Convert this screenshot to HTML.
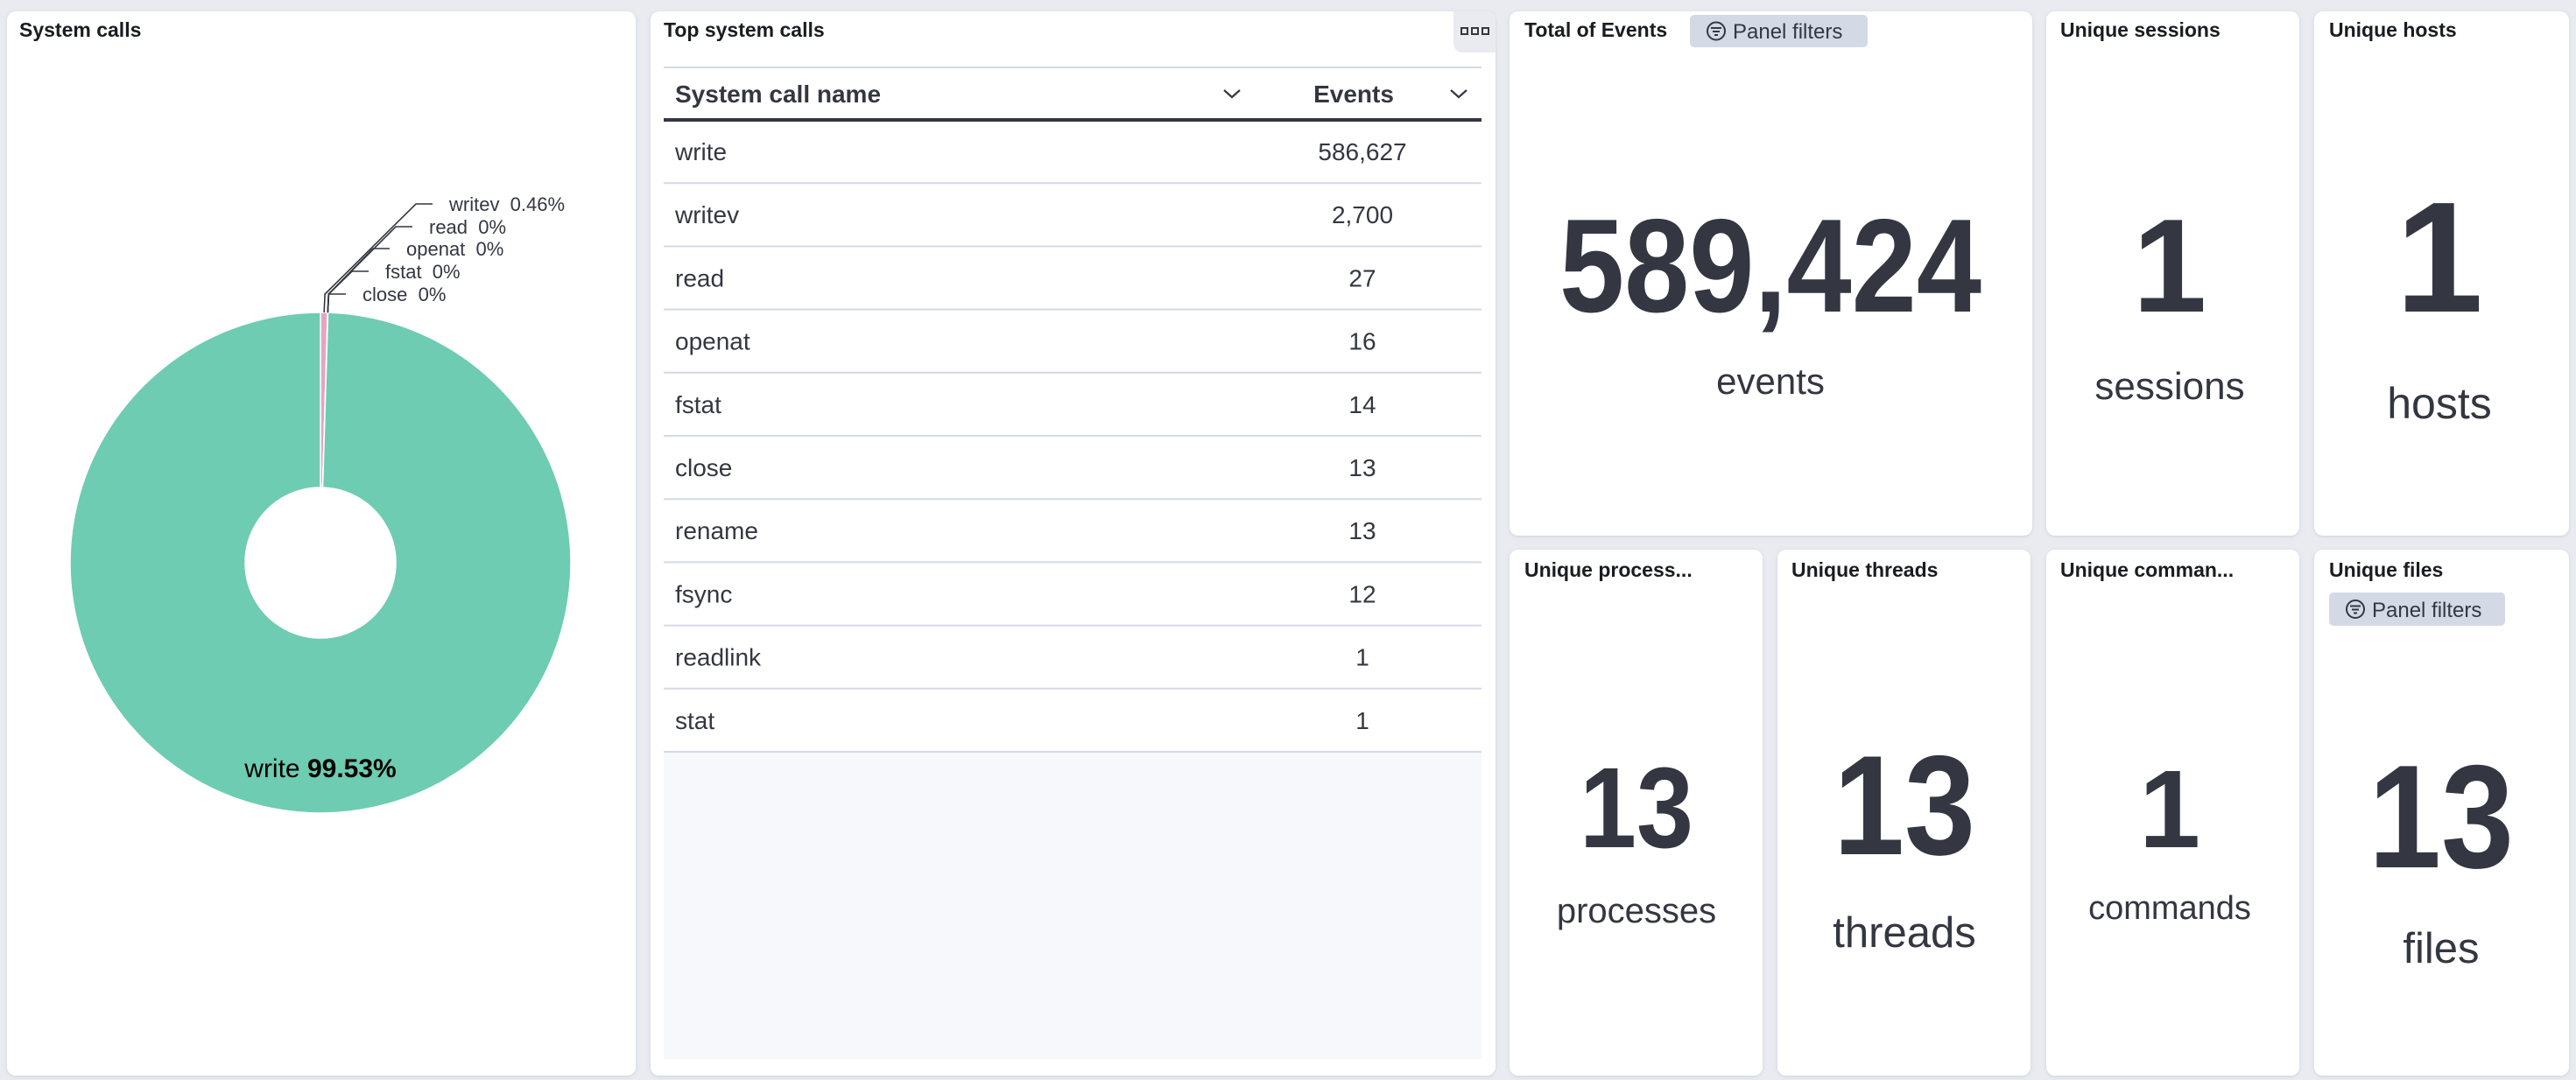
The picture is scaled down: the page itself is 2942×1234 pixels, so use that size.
<!DOCTYPE html>
<html><head><meta charset="utf-8"><style>
html,body{margin:0;padding:0;background:#e9ebf0;}
svg{display:block;font-family:"Liberation Sans",sans-serif;}
</style></head><body>
<svg id="root" width="2942" height="1234" viewBox="0 0 2942 1234" xmlns="http://www.w3.org/2000/svg">
<defs><filter id="sh" x="-5%" y="-5%" width="110%" height="110%"><feDropShadow dx="0" dy="1" stdDeviation="2" flood-color="#98a2b3" flood-opacity="0.35"/></filter></defs>
<rect width="2942" height="1234" fill="#e9ebf0"/>
<g filter="url(#sh)" fill="#fff">
<rect x="8" y="13" width="718" height="1216" rx="10"/>
<rect x="743" y="13" width="965" height="1216" rx="10"/>
<rect x="1724" y="13" width="597" height="599" rx="10"/>
<rect x="2337" y="13" width="289" height="599" rx="10"/>
<rect x="2643" y="13" width="291" height="599" rx="10"/>
<rect x="1724" y="628" width="289" height="601" rx="10"/>
<rect x="2030" y="628" width="289" height="601" rx="10"/>
<rect x="2337" y="628" width="289" height="601" rx="10"/>
<rect x="2643" y="628" width="291" height="601" rx="10"/>
</g>
<g font-weight="bold" font-size="23" fill="#1a1c21">
<text x="22" y="42">System calls</text>
<text x="758" y="42">Top system calls</text>
<text x="1741" y="42">Total of Events</text>
<text x="2353" y="42">Unique sessions</text>
<text x="2660" y="42">Unique hosts</text>
<text x="1741" y="659">Unique process...</text>
<text x="2046" y="659">Unique threads</text>
<text x="2353" y="659">Unique comman...</text>
<text x="2660" y="659">Unique files</text>
</g>
<g>
<rect x="1930" y="17" width="203" height="37" rx="5" fill="#d3dae6"/>
<circle cx="1960" cy="35.5" r="10" fill="none" stroke="#343741" stroke-width="2"/>
<path d="M1954 32h12M1956 36h8M1958 40h4" stroke="#343741" stroke-width="2"/>
<text x="1979" y="44" font-size="24" fill="#343741">Panel filters</text>
</g>
<g>
<rect x="2660" y="677" width="201" height="38" rx="5" fill="#d3dae6"/>
<circle cx="2690" cy="696" r="10" fill="none" stroke="#343741" stroke-width="2"/>
<path d="M2684 692.5h12M2686 696.5h8M2688 700.5h4" stroke="#343741" stroke-width="2"/>
<text x="2709" y="705" font-size="24" fill="#343741">Panel filters</text>
</g>
<g>
<path d="M1660 13h38a10 10 0 0 1 10 10v37h-38a10 10 0 0 1-10-10z" fill="#e9ebf0"/>
<rect x="1669" y="32" width="7" height="7" fill="none" stroke="#343741" stroke-width="2"/>
<rect x="1681" y="32" width="7" height="7" fill="none" stroke="#343741" stroke-width="2"/>
<rect x="1693" y="32" width="7" height="7" fill="none" stroke="#343741" stroke-width="2"/>
</g>
<g fill="#343741" font-weight="bold" text-anchor="middle">
<text x="2022" y="356" font-size="152" textLength="482" lengthAdjust="spacingAndGlyphs">589,424</text>
<text x="2478" y="356" font-size="152">1</text>
<text x="2786" y="356" font-size="180">1</text>
<text x="1869" y="968" font-size="131" textLength="130" lengthAdjust="spacingAndGlyphs">13</text>
<text x="2175" y="976" font-size="162" textLength="162" lengthAdjust="spacingAndGlyphs">13</text>
<text x="2478" y="968" font-size="126">1</text>
<text x="2788" y="991" font-size="168" textLength="166" lengthAdjust="spacingAndGlyphs">13</text>
</g>
<g fill="#343741" text-anchor="middle">
<text x="2022" y="450" font-size="42">events</text>
<text x="2478" y="456" font-size="44">sessions</text>
<text x="2786" y="478" font-size="50">hosts</text>
<text x="1869" y="1054" font-size="40">processes</text>
<text x="2175" y="1082" font-size="49">threads</text>
<text x="2478" y="1050" font-size="38">commands</text>
<text x="2788" y="1100" font-size="49">files</text>
</g>
<g id="pie"></g>
<g id="table"></g>
</svg>
<script>
const callNames = ["write","writev","read","openat","fstat","close","rename","fsync","readlink","stat"];
const callCounts = [586627,2700,27,16,14,13,13,12,1,1];
const pieLabelCount = 6;

const NS = "http://www.w3.org/2000/svg";
function mk(tag, attrs, parent){const e=document.createElementNS(NS,tag);for(const k in attrs)e.setAttribute(k,attrs[k]);parent.appendChild(e);return e;}
const total = callCounts.reduce((a,b)=>a+b,0);
const fmtPct = v => { const p = v/total*100; const r = Math.round(p*100)/100; return (r===0?"0":r.toString())+"%"; };

// Donut
const pie = document.getElementById('pie');
const cx=366, cy=643, R=286, r0=86;
const colors = ["#6dccb1","#e7a3c4","#79aad9","#f1d86f","#a987d1","#ee789d","#d6bf57","#b9a888","#da8b45","#aa6556"];
function pt(a,rad){return [cx+rad*Math.sin(a), cy-rad*Math.cos(a)];}
let order=[]; for(let i=1;i<callNames.length;i++) order.push(i); order.push(0);
let ang=0; const mids={};
order.forEach(i=>{
  const span = callCounts[i]/total*2*Math.PI;
  const a0=ang, a1=ang+span; ang=a1; mids[i]=(a0+a1)/2;
  const large = span>Math.PI?1:0;
  const p0=pt(a0,R), p1=pt(a1,R), q1=pt(a1,r0), q0=pt(a0,r0);
  const d=`M${p0[0]} ${p0[1]}A${R} ${R} 0 ${large} 1 ${p1[0]} ${p1[1]}L${q1[0]} ${q1[1]}A${r0} ${r0} 0 ${large} 0 ${q0[0]} ${q0[1]}Z`;
  const s = mk('path',{d:d, fill:colors[i], stroke:'#fff', 'stroke-width':1.5}, pie);
  
  
});
const labelYs=[233,259,284,310,336];
const labelTickX=[475,452,426,402,376];
for(let k=1;k<pieLabelCount;k++){
  const m = pt(mids[k],R);
  const y=labelYs[k-1], tx=labelTickX[k-1];
  const l = mk('polyline',{points:`${m[0]} ${m[1]} ${m[0]+1} ${336} ${tx} ${y} ${tx+19} ${y}`, fill:'none', stroke:'#343741', 'stroke-width':1.6}, pie);
  
  
  const t = mk('text',{x:tx+38, y:y+8, 'font-size':22, fill:'#343741', 'xml:space':'preserve'}, pie);
  t.setAttribute('style','white-space:pre');
  t.textContent = callNames[k]+"  "+fmtPct(callCounts[k]);
  
  
}
const wl = mk('text',{x:366, y:888, 'font-size':30, fill:'#000', 'text-anchor':'middle'}, pie);


wl.innerHTML = callNames[0]+' <tspan font-weight="bold">'+fmtPct(callCounts[0])+'</tspan>';

// Table
const tb = document.getElementById('table');
const tL=758, tR=1692, tTop=137, rh=72.2, evX=1556;
const emptyArea = mk('rect',{x:tL,y:tTop+rh*callNames.length,width:tR-tL,height:1210-(tTop+rh*callNames.length),fill:'#f7f8fc'},tb);


mk('line',{x1:tL,y1:77,x2:tR,y2:77,stroke:'#d3dae6','stroke-width':2},tb);
const h1 = mk('text',{x:771,y:117,'font-size':28,'font-weight':'bold',fill:'#343741'},tb);
h1.textContent='System call name';


const h2 = mk('text',{x:1546,y:117,'font-size':28,'font-weight':'bold',fill:'#343741','text-anchor':'middle'},tb);
h2.textContent='Events';


[1407,1666].forEach((x,j)=>{
  const c = mk('path',{d:`M${x-9} ${103}l9 8 9-8`,fill:'none',stroke:'#343741','stroke-width':2.2},tb);
  
  
});
mk('rect',{x:tL,y:tTop-2,width:tR-tL,height:4,fill:'#343741'},tb);
callNames.forEach((n,i)=>{
  const y0 = tTop+rh*i;
  const a = mk('text',{x:771,y:y0+46,'font-size':28,fill:'#343741'},tb);
  a.textContent=n;
  
  
  const b = mk('text',{x:evX,y:y0+46,'font-size':28,fill:'#343741','text-anchor':'middle'},tb);
  b.textContent=callCounts[i].toLocaleString('en-US');
  
  
  const ln = mk('line',{x1:tL,y1:y0+rh,x2:tR,y2:y0+rh,stroke:'#d3dae6','stroke-width':2},tb);
  
  
});
</script>
</body></html>
